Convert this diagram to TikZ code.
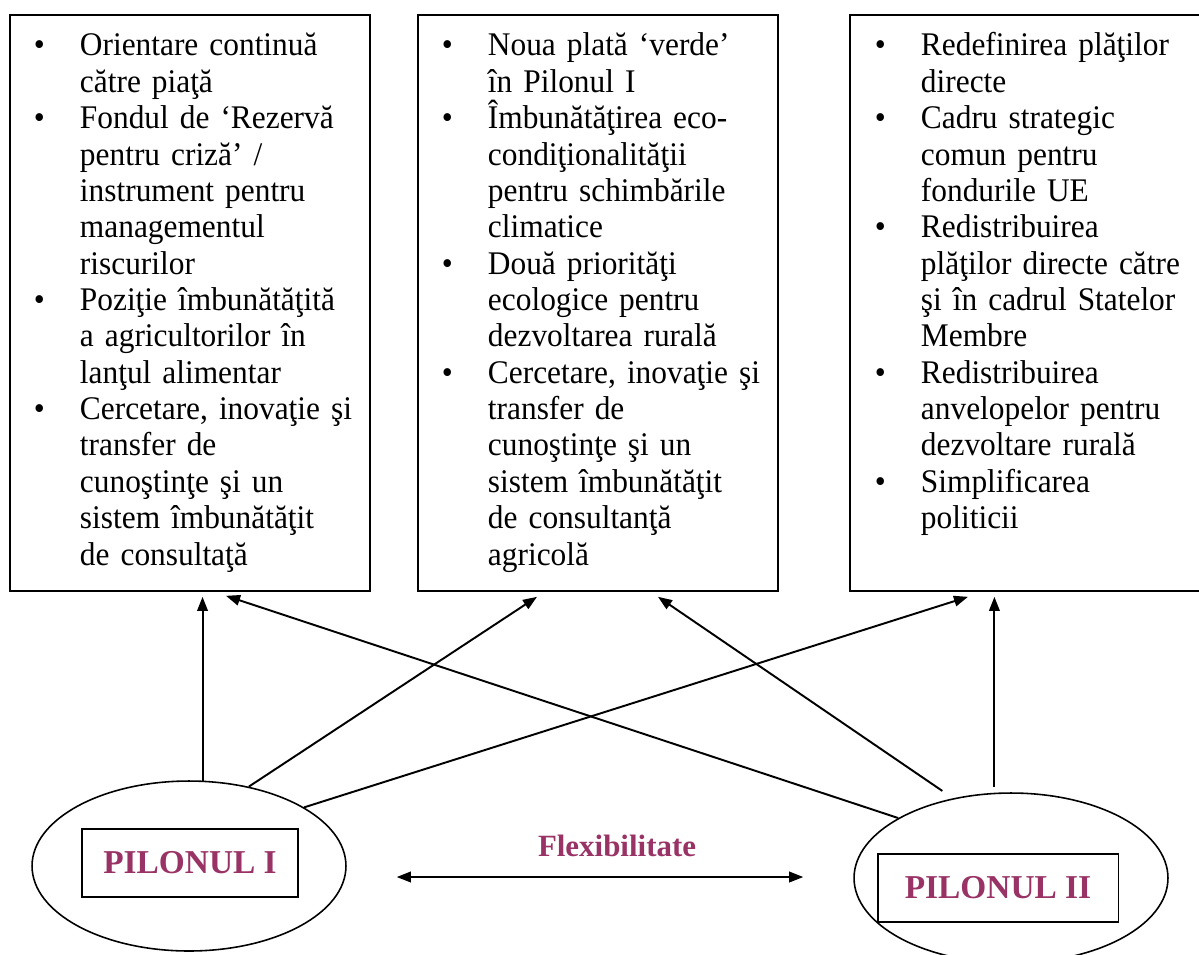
\documentclass[tikz,border=0pt]{standalone}
\usepackage{fontspec}
\setmainfont{Liberation Serif}
\newfontfamily\listfont{Liberation Serif}[FakeStretch=0.95]
\usepackage{tikz}
\usetikzlibrary{shapes.geometric,arrows.meta,calc}
\definecolor{pilcolor}{RGB}{153,51,102}
\newcommand{\itm}{\leavevmode\llap{\textbullet\hspace{20pt}}}

\begin{document}
\begin{tikzpicture}[x=0.02cm, y=-0.02cm,
            >={Triangle[length=8pt,width=6pt]},
            line width=1.1pt,
            list box/.style={rectangle, draw, minimum width=7.2cm, minimum height=11.52cm, anchor=north west, inner sep=0pt},
            list text/.style={anchor=north west, inner sep=0pt, align=left, text width=6cm, font=\listfont\fontsize{18.8pt}{20.7pt}\selectfont},
            pillar/.style={ellipse, draw, line width=0.9pt, minimum width=6.28cm, minimum height=3.4cm, inner sep=0pt},
            pillar label/.style={rectangle, draw, minimum height=1.36cm, text=pilcolor, font=\fontsize{19pt}{22pt}\selectfont\bfseries}
    ]
        \useasboundingbox (0,0) rectangle (1199,954);

        % Boxes
        \node[list box] (crp1) at (9,14) {};
        \node[list box] (crp2) at (417,14) {};
        \node[list box] (crp3) at (849,14) {};

        % Box texts
        \node[list text] (crp1txt) at ($(crp1.north west)+(70,15.5)$) {\noindent\strut\itm Orientare continuă\\
            către piaţă\\
            \itm Fondul de ‘Rezervă\\
            pentru criză’ /\\
            instrument pentru\\
            managementul\\
            riscurilor\\
            \itm Poziţie îmbunătăţită\\
            a agricultorilor în\\
            lanţul alimentar\\
            \itm Cercetare, inovaţie şi\\
            transfer de\\
            cunoştinţe şi un\\
            sistem îmbunătăţit\\
            de consultaţă};
        \node[list text] (crp2txt) at ($(crp2.north west)+(70,15.5)$) {\noindent\strut\itm Noua plată ‘verde’\\
            în Pilonul I\\
            \itm Îmbunătăţirea eco-\\
            condiţionalităţii\\
            pentru schimbările\\
            climatice\\
            \itm Două priorităţi\\
            ecologice pentru\\
            dezvoltarea rurală\\
            \itm Cercetare, inovaţie şi\\
            transfer de\\
            cunoştinţe şi un\\
            sistem îmbunătăţit\\
            de consultanţă\\
            agricolă};
        \node[list text] (crp3txt) at ($(crp3.north west)+(71,15.5)$) {\noindent\strut\itm Redefinirea plăţilor\\
            directe\\
            \itm Cadru strategic\\
            comun pentru\\
            fondurile UE\\
            \itm Redistribuirea\\
            plăţilor directe către\\
            şi în cadrul Statelor\\
            Membre\\
            \itm Redistribuirea\\
            anvelopelor pentru\\
            dezvoltare rurală\\
            \itm Simplificarea\\
            politicii};

        % Pillars
        \node[pillar] (p1) at (189,866) {};
        \node[pillar] (p2) at (1011,878) {};
        \node[pillar label, minimum width=4.32cm] (p1lbl) at (190,863) {PILONUL I};
        \node[pillar label, minimum width=4.82cm] (p2lbl) at (998,888) {PILONUL II};

        % Arrows
        \draw[->] (p1.81) -- ($(p1.81 |- crp1.south)+(0,5)$);
        \draw[->] (p1.53) -- ($(crp2.south west)+(120,5)$);
        \draw[->] (p1.27) -- ($(crp3.south west)+(119,5)$);

        \draw[->, shorten <=0.12cm] (p2.101) -- ($(p2.101 |- crp3.south)+(0,5)$);
        \draw[->, shorten <=0.26cm] (p2.126) -- ($(crp2.south west)+(241,5)$);
        \draw[->] (p2.152) -- ($(crp1.south west)+(217,4)$);

        \draw[<->] ($(p1.east)+(50,11)$) -- node[midway, above=0.38cm, xshift=0.34cm, inner sep=0pt, text=pilcolor, font=\fontsize{17.6pt}{20pt}\selectfont\bfseries] (flex) {Flexibilitate} ($(p2.west)+(-50,-1)$);

    \end{tikzpicture}
\end{document}
